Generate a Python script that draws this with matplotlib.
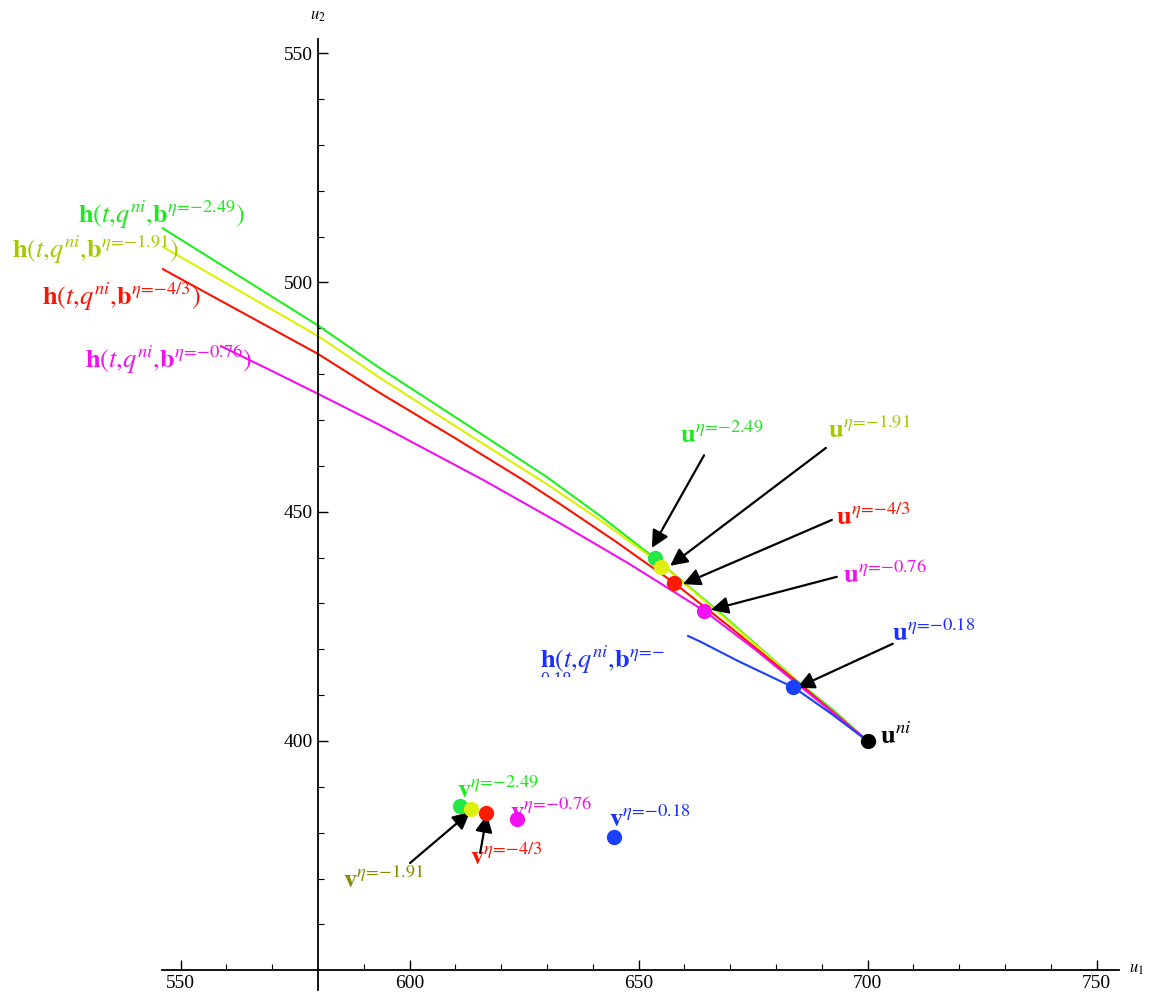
import matplotlib.pyplot as plt
from matplotlib.transforms import Bbox, TransformedBbox

plt.rcParams['font.family'] = ['Liberation Serif', 'DejaVu Serif']
plt.rcParams['mathtext.fontset'] = 'stix'

# curves h(t, q^ni, b^eta)
green_u1 = [546.1, 580.0, 593.5, 615.4, 629.9, 642.0, 653.6, 668.0, 685.2, 693.0, 700.0]
green_u2 = [511.8, 490.6, 481.3, 467.1, 457.6, 448.8, 439.8, 427.8, 412.6, 406.3, 400.0]
yellow_u1 = [546.2, 580.0, 593.5, 615.4, 630.0, 642.0, 655.4, 668.0, 685.2, 700.0]
yellow_u2 = [507.7, 488.3, 479.2, 465.2, 456.0, 447.9, 438.2, 427.5, 412.5, 400.0]
red_u1 = [546.1, 580.0, 593.5, 610.0, 624.8, 632.8, 645.0, 657.7, 670.0, 685.2, 700.0]
red_u2 = [502.9, 484.4, 475.9, 466.0, 456.9, 451.7, 443.5, 434.5, 424.8, 412.4, 400.0]
magenta_u1 = [558.8, 569.5, 580.0, 593.5, 616.1, 632.8, 648.0, 664.3, 675.0, 685.2, 700.0]
magenta_u2 = [486.1, 480.9, 475.7, 468.9, 456.9, 447.5, 438.6, 428.4, 420.3, 412.0, 400.0]
blue_u1 = [660.8, 663.4, 672.0, 684.0, 692.0, 700.0]
blue_u2 = [422.9, 421.7, 417.3, 411.6, 406.0, 400.0]

# points u^eta and v^eta
u_pts_u1 = [653.6, 654.9, 657.7, 664.3, 683.8]
u_pts_u2 = [439.8, 437.9, 434.5, 428.4, 411.7]
v_pts_u1 = [611.0, 613.4, 616.6, 623.4, 644.7]
v_pts_u2 = [385.9, 385.1, 384.4, 382.9, 379.1]
u_ni = (700.0, 400.0)

etas = ['2.49', '1.91', '4/3', '0.76', '0.18']
line_colors = ['#1ef01e', '#ddf000', '#ff1100', '#f010f0', '#1a40ff']
dot_colors = ['#22e84a', '#ddee11', '#ff1a00', '#f010f0', '#1a40ff']
label_colors = ['#1ee81e', '#a6c800', '#ff1100', '#f010f0', '#1a2eff']


def sup(eta):
    return r'\eta\!=\!{-}' + eta


fig = plt.figure(figsize=(11.51, 10), dpi=100)
ax = fig.add_axes([0.141, 0.010, 0.8316, 0.9507])
ax.set_xlim(546, 755)
ax.set_ylim(345.7, 553)

curves = [(green_u1, green_u2), (yellow_u1, yellow_u2), (red_u1, red_u2),
          (magenta_u1, magenta_u2), (blue_u1, blue_u2)]
for (cx, cy), c in zip(curves, line_colors):
    ax.plot(cx, cy, color=c, lw=1.5)

for i in range(5):
    ax.plot(u_pts_u1[i], u_pts_u2[i], 'o', color=dot_colors[i], ms=10, zorder=5)
    ax.plot(v_pts_u1[i], v_pts_u2[i], 'o', color=dot_colors[i], ms=10, zorder=5)
ax.plot(*u_ni, 'o', color='black', ms=10, zorder=5)

# axes in Mathematica style
ax.spines['left'].set_position(('data', 580))
ax.spines['bottom'].set_position(('data', 350))
ax.spines['top'].set_visible(False)
ax.spines['right'].set_visible(False)
ax.spines['left'].set_linewidth(1.3)
ax.spines['bottom'].set_linewidth(1.3)
ax.set_xticks([550, 600, 650, 700, 750])
ax.set_xticks([x for x in range(550, 751, 10) if x % 50 and x != 580], minor=True)
ax.set_yticks([400, 450, 500, 550])
ax.set_yticks([y for y in range(360, 551, 10) if y % 50], minor=True)
ax.tick_params(which='both', direction='in', labelsize=14)
ax.tick_params(which='major', length=7, width=1)
ax.tick_params(which='minor', length=4, width=0.8)
ax.text(580, 558.0, r'$u_2$', ha='center', va='center', fontsize=12)
ax.text(757, 350.3, r'$u_1$', ha='left', va='center', fontsize=12)

# h labels
h_pos = [(527.6, 514.7), (513.2, 507.1), (519.7, 496.8), (529.1, 483.1)]
for i in range(4):
    ax.text(h_pos[i][0], h_pos[i][1],
            r'$\mathbf{h}(t{,}q^{ni}{,}\mathbf{b}^{%s})$' % sup(etas[i]),
            color=label_colors[i], fontsize=19, ha='left', va='center')
ax.text(628.5, 417.7, r'$\mathbf{h}(t{,}q^{ni}{,}\mathbf{b}^{\eta\!=\!{-}}$',
        color=label_colors[4], fontsize=19, ha='left', va='center')
t = ax.text(628.6, 413.1, '0.18', color=label_colors[4], fontsize=13,
            ha='left', va='center', clip_on=True)
t.set_clip_box(TransformedBbox(Bbox([[620, 413.9], [660, 420]]), ax.transData))

# u labels
u_lab = [(659.0, 466.7), (691.4, 467.8), (693.1, 448.8), (694.6, 436.2), (705.3, 423.5)]
for i in range(5):
    ax.text(u_lab[i][0], u_lab[i][1], r'$\mathbf{u}^{%s}$' % sup(etas[i]),
            color=label_colors[i], fontsize=19, ha='left', va='center')
ax.text(702.7, 401.2, r'$\mathbf{u}^{ni}$', color='black', fontsize=19,
        ha='left', va='center')

# v labels
v_lab = [(610.3, 389.3), (585.5, 369.7), (613.2, 374.7), (622.0, 384.6), (643.6, 382.9)]
v_colors = [label_colors[0], '#8a8a00', label_colors[2], label_colors[3], label_colors[4]]
for i in range(5):
    ax.text(v_lab[i][0], v_lab[i][1], r'$\mathbf{v}^{%s}$' % sup(etas[i]),
            color=v_colors[i], fontsize=19, ha='left', va='center')

# arrows: (tail, head)
arrows = [((664.3, 462.3), (652.9, 442.1)),
          ((690.9, 463.9), (656.9, 438.2)),
          ((692.2, 448.2), (659.7, 434.2)),
          ((693.3, 435.8), (665.8, 428.6)),
          ((705.5, 421.2), (684.6, 411.6)),
          ((600.1, 373.4), (613.2, 384.5)),
          ((615.4, 375.6), (616.9, 383.9))]
for tail, head in arrows:
    ax.annotate('', xy=head, xytext=tail,
                arrowprops=dict(arrowstyle='-|>', color='black', lw=1.6,
                                mutation_scale=26, shrinkA=0, shrinkB=0))

fig.savefig('out.png', dpi=100)
